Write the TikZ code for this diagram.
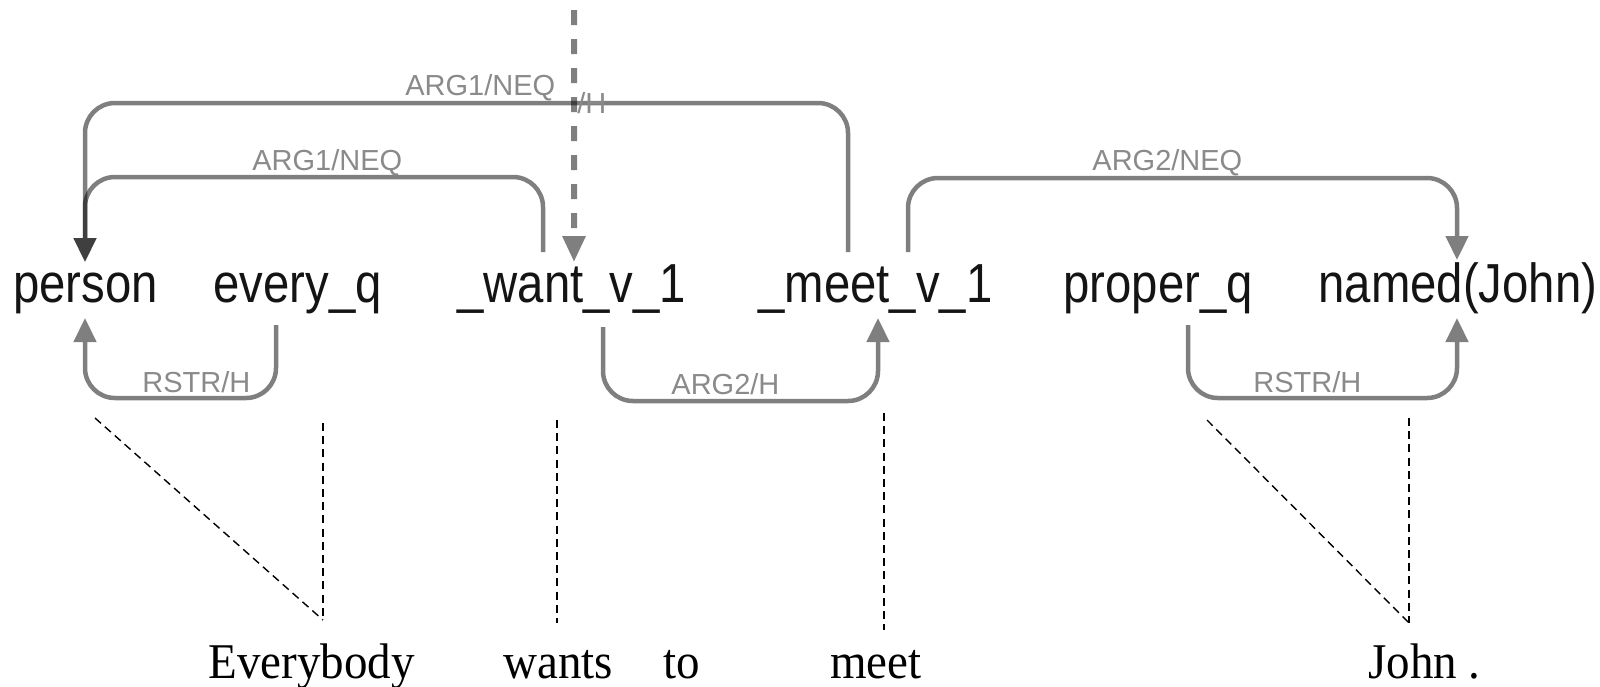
\documentclass[tikz,border=0pt]{standalone}
\usepackage{fontspec}
\setmainfont{Liberation Serif}
\setsansfont{Liberation Sans}
\usetikzlibrary{arrows.meta}

\definecolor{labelgray}{HTML}{8A8A8A}
\definecolor{predink}{HTML}{141414}

\tikzset{
  pred/.style={anchor=base west, inner sep=0pt, text=predink,
    font=\sffamily\fontsize{27.5pt}{30pt}\selectfont},
  word/.style={anchor=base west, inner sep=0pt, text=black,
    font=\rmfamily\fontsize{25pt}{28pt}\selectfont},
  elabel/.style={anchor=base west, inner sep=0pt, text=labelgray,
    font=\sffamily\fontsize{14.5pt}{16pt}\selectfont},
  edgegroup/.style={transparency group, opacity=0.5},
  edge/.style={draw=black, line width=2.25pt, rounded corners=15pt,
    -{Triangle[length=12pt,width=11pt]}},
  topedge/.style={draw=black, line width=3pt,
    dash pattern=on 7.5pt off 7pt, -{Triangle[length=13pt,width=11pt]}},
  alignline/.style={draw=black, line width=0.7pt, dash pattern=on 4pt off 2.6pt},
}

\begin{document}
\begin{tikzpicture}[x=0.5pt, y=-0.5pt]
\useasboundingbox (0,0) rectangle (1600,686);

% predicate row
\node[pred] (person) at (13,302)   {\scalebox{0.86}[1]{person}};
\node[pred] (every)  at (213,302)  {\scalebox{0.86}[1]{every\_q}};
\node[pred] (want)   at (457,302)  {\scalebox{0.86}[1]{\_want\_v\_1}};
\node[pred] (meet)   at (758,302)  {\scalebox{0.86}[1]{\_meet\_v\_1}};
\node[pred] (proper) at (1063,302) {\scalebox{0.86}[1]{proper\_q}};
\node[pred] (named)  at (1318,302) {\scalebox{0.86}[1]{named(John)}};

% sentence row
\node[word] (everybody) at (208,678)  {\scalebox{0.94}[1]{Everybody}};
\node[word] (wants)     at (503,678)  {\scalebox{0.94}[1]{wants}};
\node[word] (to)        at (663,678)  {\scalebox{0.94}[1]{to}};
\node[word] (meetw)     at (830,678)  {\scalebox{0.94}[1]{meet}};
\node[word] (john)      at (1368,678) {\scalebox{0.94}[1]{John .}};

% edge ports on the predicates
\coordinate (top-start)    at (574,10);
\coordinate (person-in-t)  at (85,262);
\coordinate (person-in-b)  at (85,318);
\coordinate (every-out)    at (276,325);
\coordinate (want-out-t)   at (543,252);
\coordinate (want-in-t)    at (574,262);
\coordinate (want-out-b)   at (603,327);
\coordinate (meet-out-a)   at (848,252);
\coordinate (meet-out-b)   at (908,252);
\coordinate (meet-in-b)    at (878,318);
\coordinate (proper-out)   at (1188,325);
\coordinate (named-in-t)   at (1457,260);
\coordinate (named-in-b)   at (1457,318);

% alignment ends
\coordinate (person-foot)  at (95,418);
\coordinate (every-foot)   at (323,423);
\coordinate (want-foot)    at (557,420);
\coordinate (meet-foot)    at (884,413);
\coordinate (proper-foot)  at (1207,420);
\coordinate (named-foot)   at (1409,418);
\coordinate (everybody-head) at (323,620);
\coordinate (wants-head)   at (557,623);
\coordinate (meet-head)    at (884,630);
\coordinate (john-head)    at (1409,623);

% semantic dependencies above the predicates
\begin{scope}[edgegroup]
  \draw[edge] (meet-out-a) -- (meet-out-a |- 0,103) -- (person-in-t |- 0,103) -- (person-in-t);
\end{scope}
\begin{scope}[edgegroup]
  \draw[edge] (want-out-t) -- (want-out-t |- 0,177) -- (person-in-t |- 0,177) -- (person-in-t);
\end{scope}
\begin{scope}[edgegroup]
  \draw[edge] (meet-out-b) -- (meet-out-b |- 0,178) -- (named-in-t |- 0,178) -- (named-in-t);
\end{scope}

% dependencies below the predicates
\begin{scope}[edgegroup]
  \draw[edge] (every-out) -- (every-out |- 0,398) -- (person-in-b |- 0,398) -- (person-in-b);
\end{scope}
\begin{scope}[edgegroup]
  \draw[edge] (want-out-b) -- (want-out-b |- 0,401) -- (meet-in-b |- 0,401) -- (meet-in-b);
\end{scope}
\begin{scope}[edgegroup]
  \draw[edge] (proper-out) -- (proper-out |- 0,398) -- (named-in-b |- 0,398) -- (named-in-b);
\end{scope}

% top marker
\begin{scope}[edgegroup]
  \draw[topedge] (top-start) -- (want-in-t);
\end{scope}

% edge labels
\node[elabel] (lab-a) at (405,95)   {ARG1/NEQ};
\node[elabel] (lab-h) at (577,113)  {/H};
\node[elabel] (lab-b) at (252,170)  {ARG1/NEQ};
\node[elabel] (lab-c) at (1092,170) {ARG2/NEQ};
\node[elabel] (lab-d) at (142,392)  {RSTR/H};
\node[elabel] (lab-e) at (671,394)  {ARG2/H};
\node[elabel] (lab-f) at (1253,392) {RSTR/H};

% alignment to the surface string
\draw[alignline] (person-foot) -- (everybody-head);
\draw[alignline] (every-foot)  -- (everybody-head);
\draw[alignline] (want-foot)   -- (wants-head);
\draw[alignline] (meet-foot)   -- (meet-head);
\draw[alignline] (proper-foot) -- (john-head);
\draw[alignline] (named-foot)  -- (john-head);
\end{tikzpicture}
\end{document}
